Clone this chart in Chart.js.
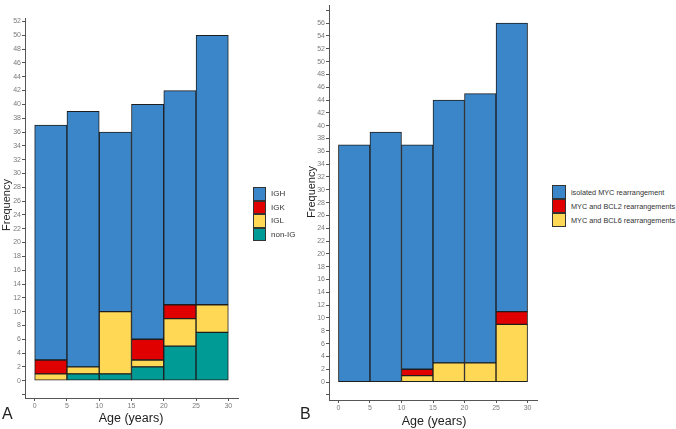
<!DOCTYPE html>
<html>
<head>
<meta charset="utf-8">
<script src="https://cdn.jsdelivr.net/npm/chart.js@4"></script>
<style>
  html, body { margin: 0; padding: 0; background: #fff; }
  body { width: 676px; height: 429px; position: relative; overflow: hidden; font-family: "Liberation Sans", Arial, sans-serif; }
  canvas { position: absolute; }
  .t { position: absolute; color: #222; white-space: nowrap; }
  .ylab { transform: translate(-50%, -50%) rotate(-90deg); font-size: 11px; }
  .xlab { transform: translate(-50%, -50%); font-size: 12.5px; }
  .pl { font-size: 16px; }
  .legend { position: absolute; font-size: 8px; color: #333; white-space: nowrap; }
  .legend .row { display: flex; align-items: center; }
  .legend .sw { box-sizing: border-box; border: 1px solid #333; margin-right: 5px; flex: none; }
</style>
</head>
<body>
<canvas id="cA" width="250" height="429" style="left:0;top:0;width:250px;height:429px"></canvas>
<canvas id="cB" width="240" height="429" style="left:304px;top:0;width:240px;height:429px"></canvas>

<div class="t ylab" style="left:6px;top:205px">Frequency</div>
<div class="t xlab" style="left:131px;top:418px">Age (years)</div>
<div class="t pl" style="left:2px;top:405px">A</div>

<div class="t ylab" style="left:311px;top:192px">Frequency</div>
<div class="t xlab" style="left:434px;top:421px">Age (years)</div>
<div class="t pl" style="left:300px;top:405px">B</div>

<div class="legend" id="legA" style="left:253px;top:187px"></div>
<div class="legend" id="legB" style="left:552px;top:185px;font-size:7.3px"></div>

<script>
// ---- data ----
const binStart = [0, 5, 10, 15, 20, 25];
const binWidth = 5;
const xTicksStep = 5;

// Panel A (stack order bottom -> top)
const seriesA = ['non-IG', 'IGL', 'IGK', 'IGH'];
const nonIG = [0, 1, 1, 2, 5, 7];
const IGL   = [1, 1, 9, 1, 4, 4];
const IGK   = [2, 0, 0, 3, 2, 0];
const IGH   = [34, 37, 26, 34, 31, 39];
const yTicksA = { max: 52, step: 2 };

// Panel B (stack order bottom -> top)
const seriesB = ['MYC and BCL6 rearrangements', 'MYC and BCL2 rearrangements', 'isolated MYC rearrangement'];
const bcl6     = [0, 0, 1, 3, 3, 9];
const bcl2     = [0, 0, 1, 0, 0, 2];
const isolated = [37, 39, 35, 41, 42, 45];
const yTicksB = { max: 56, step: 2 };

// ---- styles ----
const colA = { 'IGH': '#3A86C8', 'IGK': '#E00000', 'IGL': '#FFD856', 'non-IG': '#009B95' };
const colB = { 'isolated MYC rearrangement': '#3A86C8', 'MYC and BCL2 rearrangements': '#E00000', 'MYC and BCL6 rearrangements': '#FFD856' };
const FONT = '"Liberation Sans", Arial, sans-serif';

function toPts(vals) {
  return vals.map((v, i) => ({ x: binStart[i] + binWidth / 2, y: v === 0 ? null : v }));
}
function ds(label, vals, color) {
  return {
    label, data: toPts(vals), backgroundColor: color,
    borderColor: '#1e1e1e', borderWidth: 1, borderSkipped: false,
    barPercentage: 1, categoryPercentage: 1
  };
}
function makeChart(id, datasets, yMaxData, yTickMax, yStep, xAxisH, pad) {
  const xMin = binStart[0], xMax = binStart[binStart.length - 1] + binWidth;
  const xExp = (xMax - xMin) * 0.05;
  const yExp = yMaxData * 0.05;
  return new Chart(document.getElementById(id), {
    type: 'bar',
    data: { datasets },
    options: {
      responsive: false, animation: false,
      layout: { padding: pad },
      plugins: { legend: { display: false }, tooltip: { enabled: false } },
      scales: {
        x: {
          type: 'linear', stacked: true, offset: false, min: xMin - xExp, max: xMax + xExp,
          grid: { display: true, offset: false, drawOnChartArea: false, drawTicks: true, tickLength: 3, color: '#555' },
          border: { display: true, color: '#555', width: 1 },
          ticks: { stepSize: xTicksStep, includeBounds: false, color: '#7a7a7a', padding: 1, maxRotation: 0,
                   font: { family: FONT, size: 7 } },
          afterFit: s => { s.height = xAxisH; }
        },
        y: {
          stacked: true, min: -yExp, max: yMaxData + yExp,
          grid: { display: true, drawOnChartArea: false, drawTicks: true, tickLength: 3, color: '#555' },
          border: { display: true, color: '#555', width: 1 },
          ticks: { stepSize: yStep, includeBounds: false, color: '#7a7a7a', padding: 1,
                   font: { family: FONT, size: 7 },
                   callback: v => (v >= 0 && v <= yTickMax) ? v : '' },
          afterFit: s => { s.width = 25; }
        }
      }
    }
  });
}

const valsA = { 'non-IG': nonIG, 'IGL': IGL, 'IGK': IGK, 'IGH': IGH };
const dsA = seriesA.map(n => ds(n, valsA[n], colA[n]));
const totA = binStart.map((_, i) => seriesA.reduce((s, n) => s + valsA[n][i], 0));
makeChart('cA', dsA, Math.max(...totA), yTicksA.max, yTicksA.step, 31, { top: 18, right: 12, left: 0, bottom: 0 });

const valsB = { 'MYC and BCL6 rearrangements': bcl6, 'MYC and BCL2 rearrangements': bcl2, 'isolated MYC rearrangement': isolated };
const dsB = seriesB.map(n => ds(n, valsB[n], colB[n]));
const totB = binStart.map((_, i) => seriesB.reduce((s, n) => s + valsB[n][i], 0));
makeChart('cB', dsB, Math.max(...totB), yTicksB.max, yTicksB.step, 29, { top: 1, right: 7, left: 0, bottom: 0 });

function legend(id, names, cols, w, h) {
  const el = document.getElementById(id);
  names.slice().reverse().forEach(n => {
    const r = document.createElement('div'); r.className = 'row';
    const s = document.createElement('div'); s.className = 'sw';
    s.style.width = w + 'px'; s.style.height = h + 'px'; s.style.background = cols[n];
    const t = document.createElement('span'); t.textContent = n;
    r.appendChild(s); r.appendChild(t); el.appendChild(r);
  });
}
legend('legA', seriesA, colA, 13, 13.5);
legend('legB', seriesB, colB, 14, 14);
</script>
</body>
</html>
